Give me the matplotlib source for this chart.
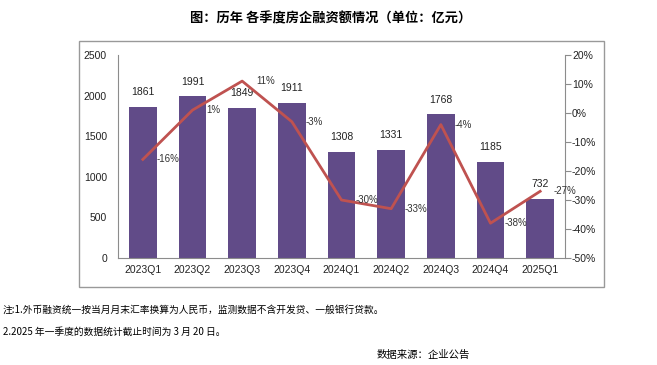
import matplotlib
matplotlib.use("Agg")
from matplotlib import pyplot as plt
from matplotlib.patches import Rectangle
from matplotlib.ticker import FuncFormatter

plt.rcParams['font.family'] = ['Liberation Sans', 'Noto Sans CJK SC', 'DejaVu Sans']

quarters = ['2023Q1', '2023Q2', '2023Q3', '2023Q4', '2024Q1',
            '2024Q2', '2024Q3', '2024Q4', '2025Q1']
amount = [1861, 1991, 1849, 1911, 1308, 1331, 1768, 1185, 732]
growth = [-16, 1, 11, -3, -30, -33, -4, -38, -27]

bar_color = '#614b88'
line_color = '#bf5250'
grey = '#8c8c8c'

fig = plt.figure(figsize=(6.57, 3.65), dpi=100)

# outer frame round the chart
fig.patches.append(Rectangle((79 / 657, 1 - 287 / 365), 525 / 657, 246 / 365,
                             transform=fig.transFigure, fill=False,
                             edgecolor='#999999', linewidth=1))

ax = fig.add_axes([118 / 657, 1 - 258 / 365, 447 / 657, 203 / 365])
x = range(len(quarters))
bars = ax.bar(x, amount, width=0.56, color=bar_color)
ax.set_ylim(0, 2500)
ax.set_xlim(-0.5, len(quarters) - 0.5)
ax.set_yticks(range(0, 2501, 500))
ax.set_xticks(list(x))
ax.set_xticklabels(quarters)
ax.tick_params(axis='y', length=0, labelsize=7.5, pad=8, colors='#222222')
ax.tick_params(axis='x', length=0, labelsize=7.5, pad=5, colors='#222222')
for s in ['top', 'right']:
    ax.spines[s].set_visible(False)
for s in ['left', 'bottom']:
    ax.spines[s].set_color(grey)

for i, v in enumerate(amount):
    ax.annotate(str(v), (i, v), xytext=(0, 7), textcoords='offset points',
                ha='center', va='bottom', fontsize=7.5, color='#222222')

ax2 = ax.twinx()
ax2.plot(list(x), growth, color=line_color, linewidth=2)
ax2.set_ylim(-50, 20)
ax2.set_yticks(range(-50, 21, 10))
ax2.yaxis.set_major_formatter(FuncFormatter(lambda v, p: f'{int(v)}%'))
ax2.tick_params(axis='y', direction='out', length=4, labelsize=7.5,
                pad=1, colors='#222222', color=grey)
for s in ['top', 'left', 'bottom']:
    ax2.spines[s].set_visible(False)
ax2.spines['right'].set_color(grey)

for i, v in enumerate(growth):
    ax2.annotate(f'{v}%', (i, v), xytext=(10, 0), textcoords='offset points',
                 ha='left', va='center', fontsize=7, color='#333333')

fig.text(331 / 657, 1 - 18 / 365, '图：历年 各季度房企融资额情况（单位：亿元）',
         ha='center', va='center', fontsize=9.5, fontweight='bold',
         family=['Noto Sans CJK SC', 'DejaVu Sans'])

note_font = ['Noto Sans CJK SC', 'DejaVu Sans']
fig.text(3 / 657, 1 - 310 / 365,
         '注:1.外币融资统一按当月月末汇率换算为人民币，监测数据不含开发贷、一般银行贷款。',
         ha='left', va='center', fontsize=7, family=note_font)
fig.text(3 / 657, 1 - 332 / 365, '2.2025 年一季度的数据统计截止时间为 3 月 20 日。',
         ha='left', va='center', fontsize=7, family=note_font)
fig.text(470 / 657, 1 - 355 / 365, '数据来源：企业公告',
         ha='right', va='center', fontsize=7.5, family=note_font)

fig.savefig('out.png', dpi=100)
